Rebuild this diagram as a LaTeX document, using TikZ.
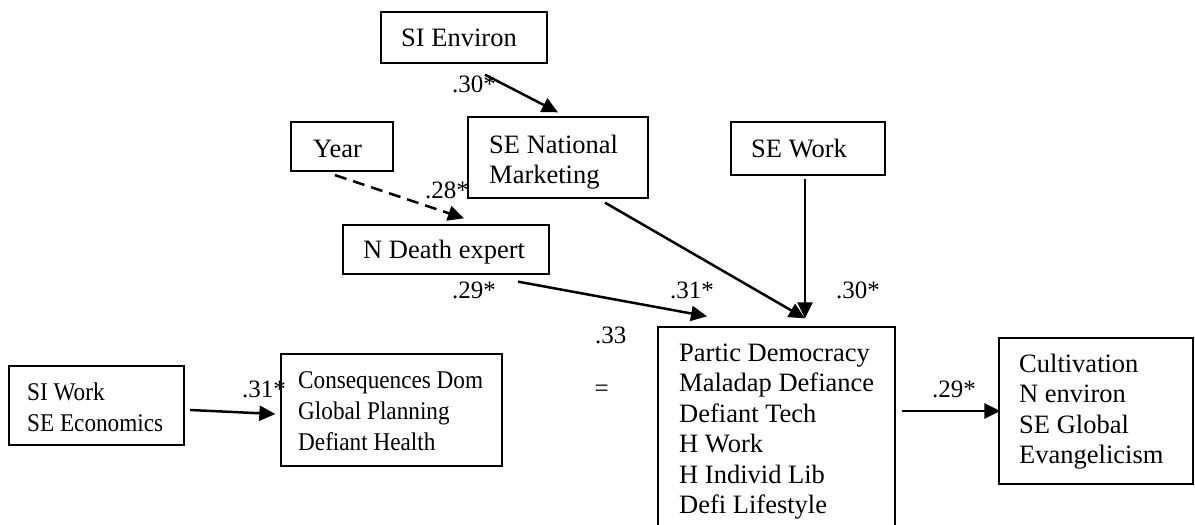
\documentclass[tikz,border=0pt]{standalone}
\usepackage{fontspec}
\setmainfont{Liberation Serif}
\newfontfamily\narrowserif[FakeStretch=0.91]{Liberation Serif}
\usetikzlibrary{arrows.meta,calc}
\tikzset{
  box/.style={draw, line width=1.3pt, inner sep=0pt},
  thickbox/.style={box, line width=2.2pt},
  txt/.style={anchor=base west, inner sep=0pt, font=\fontsize{26.5}{30.5}\selectfont},
  ntxt/.style={anchor=base west, inner sep=0pt, font=\narrowserif\fontsize{25.5}{31}\selectfont},
  lbl/.style={anchor=base west, inner sep=0pt, font=\fontsize{25}{30}\selectfont},
  arr/.style={line width=2.5pt, -{Triangle[length=16pt,width=15pt]}},
  dasharr/.style={arr, dash pattern=on 12pt off 7pt}
}
\newcommand{\lines}[1]{\begin{tabular}[t]{@{}l@{}}#1\end{tabular}}
\begin{document}
\begin{tikzpicture}[x=1pt,y=-1pt]
\useasboundingbox (0,0) rectangle (1195,525);
\clip (0,0) rectangle (1195,525);
% boxes
\node[box, minimum width=166pt, minimum height=51pt] (envr) at (464,37.5) {};
\node[box, minimum width=180pt, minimum height=81pt] (senat) at (558,157.5) {};
\node[thickbox, minimum width=102pt, minimum height=49pt] (year) at (342,146.5) {};
\node[box, minimum width=206pt, minimum height=49pt] (ndeath) at (446,249.5) {};
\node[box, minimum width=154pt, minimum height=53pt] (sework) at (808,148.5) {};
\node[box, minimum width=237pt, minimum height=218pt] (big) at (776.5,436) {};
\node[box, minimum width=221pt, minimum height=112pt] (conseq) at (391.5,410) {};
\node[thickbox, minimum width=175pt, minimum height=79pt] (siwork) at (96.5,405.5) {};
\node[box, minimum width=194pt, minimum height=146pt] (cult) at (1096,411) {};
% texts
\node[txt] (t-envr) at (401,46) {SI Environ};
\node[txt] (t-senat) at (489,153) {\lines{SE National\\Marketing}};
\node[txt] (t-year) at (313,157) {Year};
\node[txt] (t-ndeath) at (363,258) {N Death expert};
\node[txt] (t-sework) at (751,157) {SE Work};
\node[txt] (t-big) at (679,361) {\lines{Partic Democracy\\Maladap Defiance\\Defiant Tech\\H Work\\H Individ Lib\\Defi Lifestyle}};
\node[ntxt] (t-conseq) at (298,388) {\lines{Consequences Dom\\Global Planning\\Defiant Health}};
\node[ntxt] (t-siwork) at (27,400) {\lines{SI Work\\SE Economics}};
\node[txt] (t-cult) at (1019,372) {\lines{Cultivation\\N environ\\SE Global\\Evangelicism}};
% connectors
\draw[arr] ($(envr.south)+(21,11)$) -- ($(senat.north)+(0,-4)$);
\draw[dasharr] ($(year.south)+(-7,3)$) -- ($(ndeath.north)+(18,-6)$);
\draw[arr] ($(senat.south)+(47,4)$) -- ($(big.north)+(28.5,-8)$);
\draw[arr] ($(sework.south)+(-3,3)$) -- ($(big.north)+(28.5,-8)$);
\draw[arr] ($(ndeath.south)+(72,7)$) -- ($(big.north)+(-69.5,-10)$);
\draw[arr] ($(siwork.east)+(5,4.5)$) -- ($(conseq.west)+(-5,4)$);
\draw[arr] ($(big.east|-cult.west)+(6,0)$) -- ($(cult.west)+(2,0)$);
% labels
\node[lbl] (l1) at (452,92) {.30*};
\node[lbl] (l2) at (425,198) {.28*};
\node[lbl] (l3) at (452,298) {.29*};
\node[lbl] (l4) at (670,298) {.31*};
\node[lbl] (l5) at (836,298) {.30*};
\node[lbl] (l6) at (595,343) {.33};
\node[lbl] (l7) at (601,390) {\makebox[0pt]{\raisebox{-0.25em}{=}}};
\node[lbl] (l8) at (242,397) {.31*};
\node[lbl] (l9) at (932,397) {.29*};
\end{tikzpicture}
\end{document}
